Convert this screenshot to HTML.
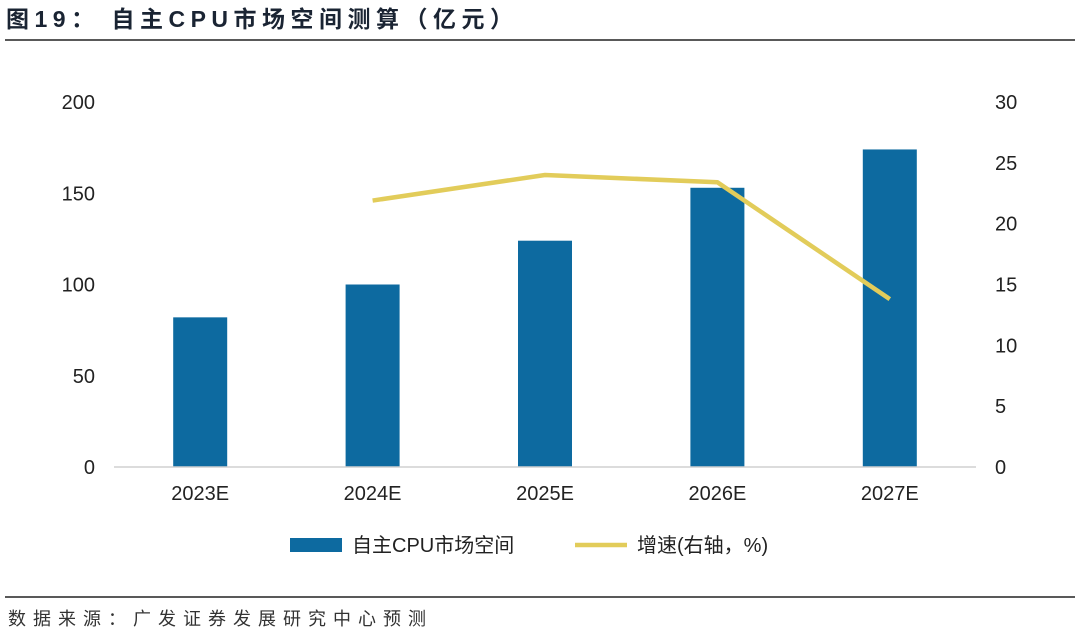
<!DOCTYPE html>
<html><head><meta charset="utf-8"><style>
body{margin:0;background:#fff;width:1080px;height:635px;overflow:hidden;font-family:"Liberation Sans","Noto Sans CJK SC",sans-serif;}
</style></head><body>
<svg id="c" width="1080" height="635" xmlns="http://www.w3.org/2000/svg">
<text x="6" y="27" font-size="23" font-weight="bold" fill="#1a2433" letter-spacing="5.5" font-family="Liberation Sans,Noto Sans CJK SC,sans-serif">图19：  自主CPU市场空间测算（亿元）</text>
<line x1="5" y1="40" x2="1075" y2="40" stroke="#222" stroke-width="1.5"/>
<line x1="5" y1="597" x2="1075" y2="597" stroke="#222" stroke-width="1.5"/>
<text x="8" y="625" font-size="18" fill="#333" letter-spacing="7">数据来源：广发证券发展研究中心预测</text>
<g id="plot"></g>
</svg>
<script>
const categories=["2023E","2024E","2025E","2026E","2027E"];
const marketValues=[82,100,124,153,174];
const growthCats=["2024E","2025E","2026E","2027E"];
const growthValues=[21.9,24.0,23.4,13.8];
const leftTicks=[0,50,100,150,200];
const rightTicks=[0,5,10,15,20,25,30];
const NS="http://www.w3.org/2000/svg";
const g=document.getElementById('plot');
const x0=114,x1=976,y0=467,y1=102;
const yL=v=>y0-(v/200)*(y0-y1);
const yR=v=>y0-(v/30)*(y0-y1);
const bw=(x1-x0)/categories.length;
const xC=c=>x0+bw*(categories.indexOf(c)+0.5);
function mk(t,a,txt){const e=document.createElementNS(NS,t);for(const k in a)e.setAttribute(k,a[k]);if(txt!==undefined)e.textContent=txt;g.appendChild(e);return e;}
leftTicks.forEach(v=>{const e=mk('text',{x:95,y:yL(v)+7,'text-anchor':'end','font-size':20,fill:'#222'},v);

});
rightTicks.forEach(v=>{const e=mk('text',{x:995,y:yR(v)+7,'font-size':20,fill:'#222'},v);

});
categories.forEach((c,i)=>{
const h=y0-yL(marketValues[i]);
const r=mk('rect',{x:xC(c)-27,y:yL(marketValues[i]),width:54,height:h,fill:'#0d6aa0'});


const t=mk('text',{x:xC(c),y:500,'text-anchor':'middle','font-size':20,fill:'#222'},c);


});
const ax=mk('line',{x1:x0,y1:y0,x2:x1,y2:y0,stroke:'#d0d0d0','stroke-width':1.5});


const pts=growthCats.map((c,i)=>xC(c)+','+yR(growthValues[i])).join(' ');
const pl=mk('polyline',{points:pts,fill:'none',stroke:'#e2cc5a','stroke-width':4.5,'stroke-linejoin':'round'});


const lb=mk('rect',{x:290,y:538,width:52,height:14,fill:'#0d6aa0'});


const lt=mk('text',{x:352,y:552,'font-size':20,fill:'#222'},'自主CPU市场空间');


const ll=mk('line',{x1:575,y1:545,x2:627,y2:545,stroke:'#e2cc5a','stroke-width':4.5});


const lt2=mk('text',{x:637,y:552,'font-size':20,fill:'#222'},'增速(右轴，%)');


</script>
</body></html>
